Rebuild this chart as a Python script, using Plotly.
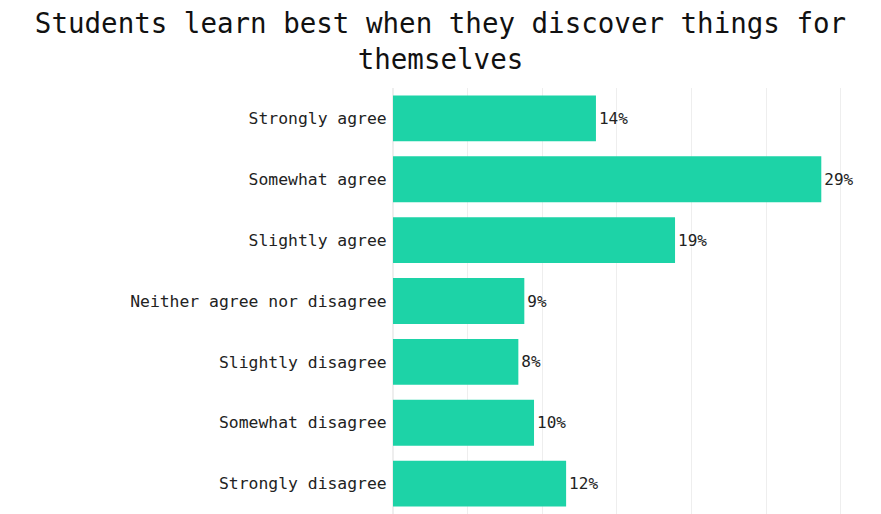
import plotly.graph_objects as go

categories = ["Strongly agree", "Somewhat agree", "Slightly agree",
              "Neither agree nor disagree", "Slightly disagree",
              "Somewhat disagree", "Strongly disagree"]
values = [13.6, 28.7, 18.9, 8.8, 8.4, 9.45, 11.6]
labels = ["14%", "29%", "19%", "9%", "8%", "10%", "12%"]

W, H = 881, 514
left, right = 393, 863
top = 87.5

fig = go.Figure(go.Bar(
    x=values, y=categories, orientation="h",
    marker=dict(color="#1dd3a7", line=dict(width=0)),
    text=labels, textposition="outside", cliponaxis=False,
    textfont=dict(family="DejaVu Sans Mono", size=16, color="#222222"),
    hoverinfo="skip",
))

fig.update_layout(
    width=W, height=H,
    margin=dict(l=left, r=W - right, t=top, b=0, pad=0),
    paper_bgcolor="white", plot_bgcolor="white",
    bargap=0.246,
    showlegend=False,
    title=dict(
        text="Students learn best when they discover things for<br>themselves",
        x=0.5, xref="container", xanchor="center",
        y=1, yref="container", yanchor="top", pad=dict(t=33),
        font=dict(family="DejaVu Sans Mono", size=27.5, color="#111111"),
    ),
    font=dict(family="DejaVu Sans Mono", size=16, color="#222222"),
)
fig.update_xaxes(range=[0, (right - left) / 14.923], dtick=5,
                 showgrid=True, gridcolor="#eeeeee", gridwidth=1,
                 showticklabels=False, zeroline=True, zerolinecolor="#eeeeee",
                 showline=False, fixedrange=True)
fig.update_yaxes(autorange="reversed", showgrid=False, showline=False,
                 ticks="outside", ticklen=2, tickcolor="rgba(0,0,0,0)",
                 tickfont=dict(family="DejaVu Sans Mono", size=16.4, color="#222222"),
                 fixedrange=True)

fig.write_html("out.html", config={"displayModeBar": False},
               post_script="document.body.style.margin='0';")
